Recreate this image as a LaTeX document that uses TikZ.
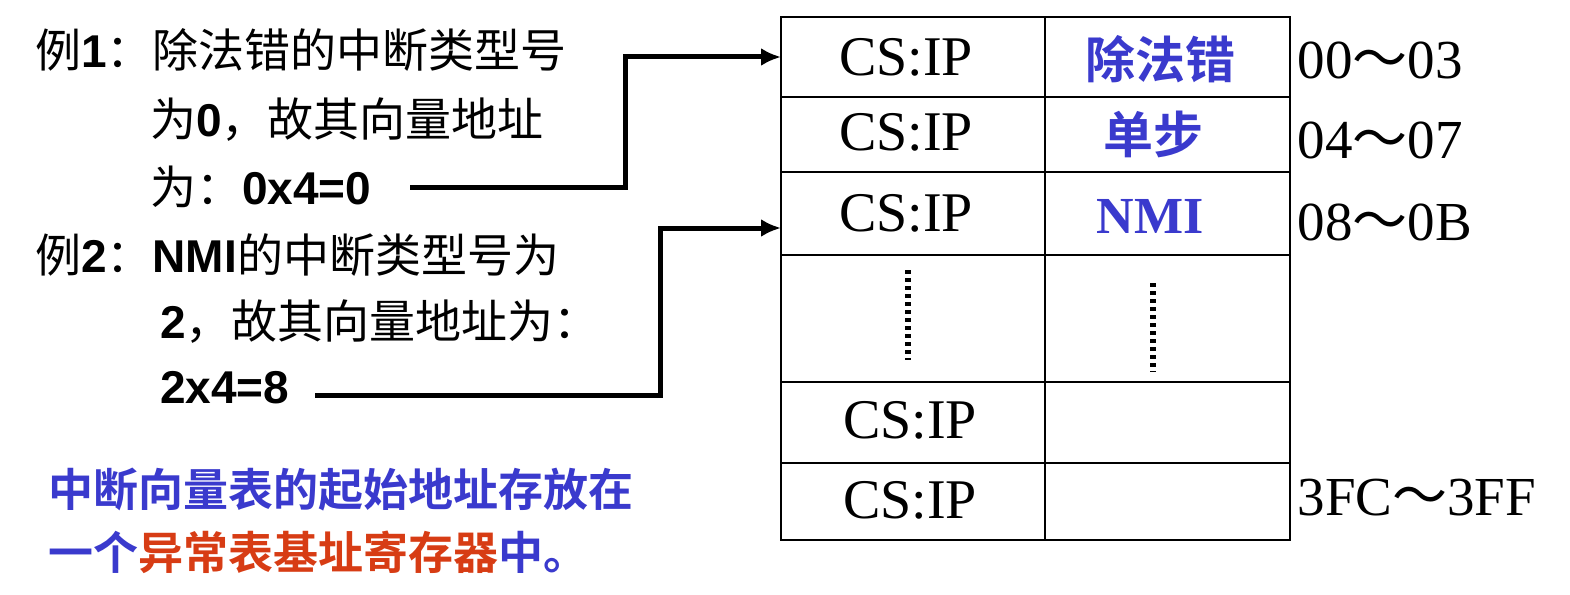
\documentclass[tikz,border=0pt]{standalone}
\usepackage{fontspec}
\usetikzlibrary{arrows.meta}
\setmainfont{Liberation Serif}
\newfontfamily\cjk{Noto Sans CJK SC}[BoldFont=* Bold]
\newfontfamily\sansb{Liberation Sans}[BoldFont=* Bold]
\definecolor{myblue}{RGB}{58,58,205}
\definecolor{myred}{RGB}{215,60,20}
\begin{document}
\begin{tikzpicture}[x=1pt,y=-1pt,
  cell/.style={font=\fontsize{56}{60}\selectfont},
  lab/.style={font=\cjk\bfseries\fontsize{50}{54}\selectfont,text=myblue},
  addr/.style={anchor=west,font=\fontsize{55}{60}\selectfont},
  txt/.style={anchor=west,font=\cjk\fontsize{46}{50}\selectfont,inner sep=0},
  conn/.style={line width=5pt,-{Latex[length=20pt,width=18pt]}}]
\useasboundingbox (0,0) rectangle (1570,594);
\draw[line width=1.2pt] (781,17) rectangle (1290,540);
\draw[line width=1.2pt] (1045,17) -- (1045,540);
\foreach \y in {97,172,255,382,463} \draw[line width=1.2pt] (781,\y) -- (1290,\y);
\node[cell] (c1) at (906,57) {CS:IP};
\node[cell] (c2) at (906,132) {CS:IP};
\node[cell] (c3) at (906,213) {CS:IP};
\node[cell] (c5) at (910,420) {CS:IP};
\node[cell] (c6) at (910,500) {CS:IP};
\node[lab] (l1) at (1160,59) {除法错};
\node[lab] (l2) at (1153,134) {单步};
\node[lab,font=\bfseries\fontsize{52}{56}\selectfont] (l3) at (1150,216) {NMI};
\draw[line width=6pt,dash pattern=on 4pt off 4pt] (908,270) -- (908,360);
\draw[line width=6pt,dash pattern=on 4pt off 4pt] (1153,283) -- (1153,372);
\node[addr] (a1) at (1294,60) {00{\cjk ～}03};
\node[addr] (a2) at (1294,140) {04{\cjk ～}07};
\node[addr] (a3) at (1294,222) {08{\cjk ～}0B};
\node[addr] (a4) at (1294,498) {3FC{\cjk ～}3FF};
\node[txt] (t1) at (35,50) {例\textbf{\sansb 1}：除法错的中断类型号};
\node[txt] (t2) at (150,120) {为\textbf{\sansb 0}，故其向量地址};
\node[txt] (t3) at (150,187) {为：\textbf{\sansb 0x4=0}};
\node[txt] (t4) at (35,255) {例\textbf{\sansb 2}：\textbf{\sansb NMI}的中断类型号为};
\node[txt] (t5) at (160,322) {\textbf{\sansb 2}，故其向量地址为：};
\node[txt] (t6) at (160,388) {\textbf{\sansb 2x4=8}};
\node[txt,font=\cjk\bfseries\fontsize{45}{50}\selectfont,text=myblue] (b1) at (48,490) {中断向量表的起始地址存放在};
\node[txt,font=\cjk\bfseries\fontsize{45}{50}\selectfont,text=myblue] (b2) at (48,552) {一个\textcolor{myred}{异常表基址寄存器}中。};
\coordinate (s1) at (410,187);
\coordinate (s2) at (315,395);
\draw[conn] (s1) -- (625,187) -- (625,57) -- (781,57);
\draw[conn] (s2) -- (660,395) -- (660,228) -- (781,228);
\end{tikzpicture}
\end{document}
